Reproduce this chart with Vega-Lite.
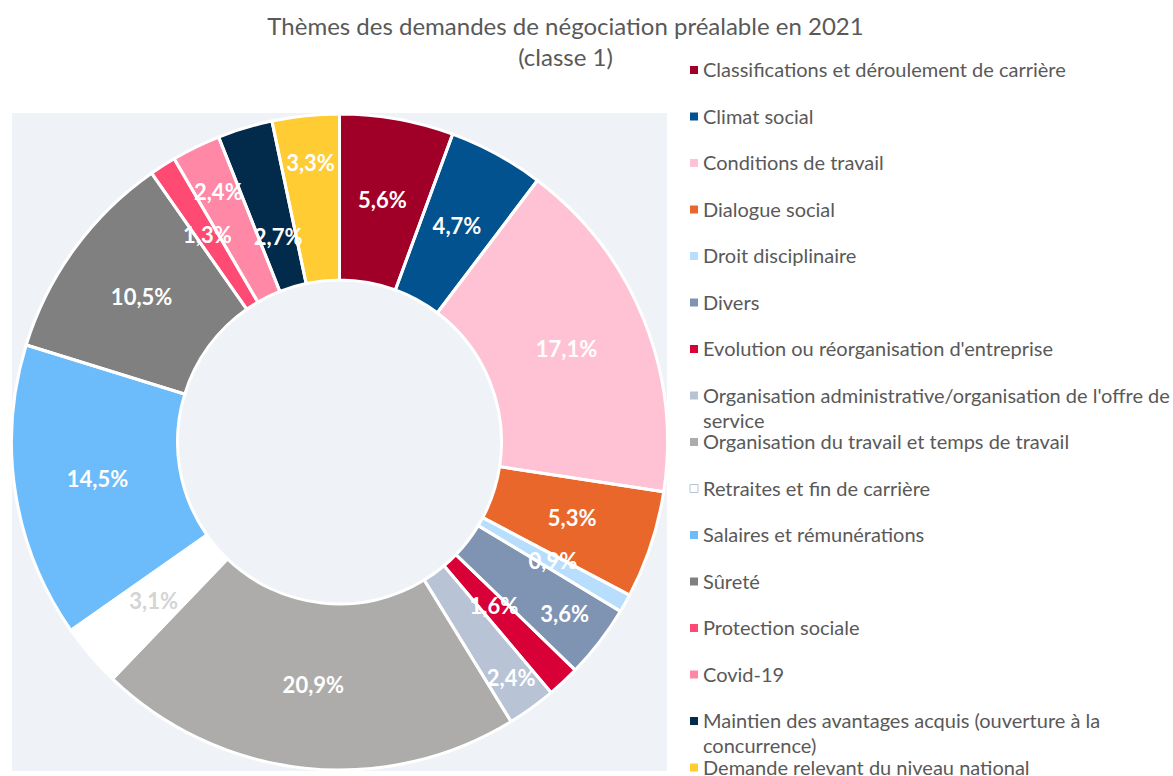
{
  "$schema": "https://vega.github.io/schema/vega-lite/v6.json",
  "autosize": "none",
  "width": 655,
  "height": 658,
  "padding": {"left": 12, "top": 113, "right": 506, "bottom": 5},
  "background": "white",
  "view": {"fill": "#eff3f7", "stroke": null},
  "title": {
    "text": ["Thèmes des demandes de négociation préalable en 2021", "(classe 1)"],
    "font": "Lato",
    "fontSize": 24,
    "fontWeight": "normal",
    "color": "#595959",
    "lineHeight": 31,
    "anchor": "middle",
    "frame": "group",
    "dx": 226,
    "dy": 21,
    "offset": 10
  },
  "config": {
    "view": {"fill": "#eff3f7", "stroke": null},
    "locale": {"number": {"decimal": ",", "thousands": " ", "grouping": [3], "currency": ["", " €"]}}
  },
  "data": {
    "values": [
      {"cat": "Classifications et déroulement de carrière", "v": 0.056},
      {"cat": "Climat social", "v": 0.047},
      {"cat": "Conditions de travail", "v": 0.171},
      {"cat": "Dialogue social", "v": 0.053},
      {"cat": "Droit disciplinaire", "v": 0.009},
      {"cat": "Divers", "v": 0.036},
      {"cat": "Evolution ou réorganisation d'entreprise", "v": 0.016},
      {"cat": "Organisation administrative/organisation de l'offre de service", "v": 0.024},
      {"cat": "Organisation du travail et temps de travail", "v": 0.209},
      {"cat": "Retraites et fin de carrière", "v": 0.031},
      {"cat": "Salaires et rémunérations", "v": 0.145},
      {"cat": "Sûreté", "v": 0.105},
      {"cat": "Protection sociale", "v": 0.013},
      {"cat": "Covid-19", "v": 0.024},
      {"cat": "Maintien des avantages acquis (ouverture à la concurrence)", "v": 0.027},
      {"cat": "Demande relevant du niveau national", "v": 0.033}
    ]
  },
  "transform": [{"window": [{"op": "row_number", "as": "idx"}]}],
  "encoding": {
    "theta": {"field": "v", "type": "quantitative", "stack": true},
    "order": {"field": "idx", "type": "quantitative"}
  },
  "layer": [
    {
      "mark": {"type": "arc", "outerRadius": 328, "innerRadius": 162},
      "encoding": {
        "color": {
          "field": "cat",
          "type": "nominal",
          "scale": {
            "domain": [
              "Classifications et déroulement de carrière",
              "Climat social",
              "Conditions de travail",
              "Dialogue social",
              "Droit disciplinaire",
              "Divers",
              "Evolution ou réorganisation d'entreprise",
              "Organisation administrative/organisation de l'offre de service",
              "Organisation du travail et temps de travail",
              "Retraites et fin de carrière",
              "Salaires et rémunérations",
              "Sûreté",
              "Protection sociale",
              "Covid-19",
              "Maintien des avantages acquis (ouverture à la concurrence)",
              "Demande relevant du niveau national"
            ],
            "range": ["#a00028", "#01528f", "#ffc2d4", "#ea672c", "#b7defc", "#7f94b2", "#d80036", "#b8c4d6", "#adacaa", "#ffffff", "#6cbcfb", "#808080", "#ff4a74", "#ff88a6", "#012a4b", "#ffcc33"]
          },
          "legend": {
            "title": null,
            "orient": "none",
            "legendX": 672,
            "legendY": -53,
            "padding": 0,
            "symbolType": "square",
            "symbolSize": 64,
            "labelFont": "Lato",
            "labelFontSize": 20,
            "labelColor": "#595959",
            "labelLimit": 600,
            "labelOffset": -1,
            "labelBaseline": "alphabetic",
            "gridAlign": "all",
            "rowPadding": 0.5,
            "labelExpr": "datum.label == \"Organisation administrative/organisation de l'offre de service\" ? [\"Organisation administrative/organisation de l'offre de\", \"service\"] : datum.label == \"Maintien des avantages acquis (ouverture à la concurrence)\" ? [\"Maintien des avantages acquis (ouverture à la\", \"concurrence)\"] : datum.label",
            "encode": {
              "labels": {"update": {"dy": {"value": 7}, "lineHeight": {"value": 25}, "baseline": {"value": "alphabetic"}}},
              "symbols": {"update": {"stroke": {"signal": "datum.value === 'Retraites et fin de carrière' ? '#b8c4d6' : null"}, "strokeWidth": {"value": 1}}}
            }
          }
        }
      }
    },
    {
      "mark": {"type": "arc", "outerRadius": 328, "innerRadius": 162, "fill": "white", "fillOpacity": 0, "stroke": "white", "strokeWidth": 3},
      "encoding": {}
    },
    {
      "mark": {
        "type": "text",
        "radius": {"expr": "datum.cat == 'Demande relevant du niveau national' ? 280 : datum.cat == 'Covid-19' ? 277 : datum.cat == 'Maintien des avantages acquis (ouverture à la concurrence)' ? 213 : datum.cat == \"Organisation administrative/organisation de l'offre de service\" ? 293 : datum.cat == 'Divers' ? 284 : datum.cat == \"Evolution ou réorganisation d'entreprise\" ? 226 : 245"},
        "font": "Lato",
        "fontSize": 22,
        "fontWeight": "bold"
      },
      "encoding": {
        "text": {"field": "v", "type": "quantitative", "format": ".1%"},
        "color": {
          "condition": {"test": "datum.cat === 'Retraites et fin de carrière'", "value": "#d4d4d4"},
          "value": "white"
        }
      }
    }
  ]
}
